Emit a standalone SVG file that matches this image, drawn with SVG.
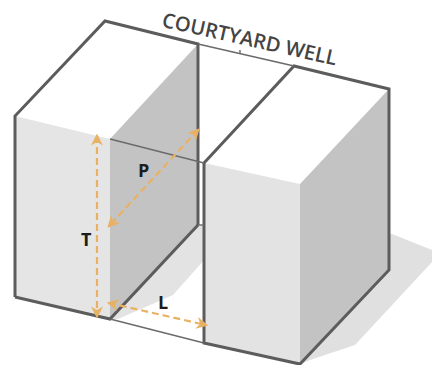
<svg xmlns="http://www.w3.org/2000/svg" width="432" height="365" viewBox="0 0 432 365">
<defs>
<marker id="ah" viewBox="0 0 10 10" refX="8" refY="5" markerWidth="12" markerHeight="12" markerUnits="userSpaceOnUse" orient="auto-start-reverse"><path d="M0 0L10 5L0 10L3 5Z" fill="#e9b164"/></marker>
<filter id="soft" x="-5%" y="-5%" width="110%" height="110%"><feGaussianBlur stdDeviation="0.7"/></filter>
<filter id="edge" x="-5%" y="-5%" width="110%" height="110%"><feGaussianBlur stdDeviation="0.4"/></filter>
</defs>
<style>
.thick{stroke:#5c5c5c;stroke-width:3;fill:none;stroke-linejoin:miter}
.thin{stroke:#6a6a6a;stroke-width:1.4;fill:none}
.dim{stroke:#e9b164;stroke-width:2.2;stroke-dasharray:7 4;fill:none;marker-start:url(#ah);marker-end:url(#ah)}
.lab{font-family:"Open Sans","Liberation Sans",sans-serif;font-weight:700;fill:#1c1c1c;font-size:18px}
</style>
<rect width="432" height="365" fill="#fff"/>
<g id="shadow"><path d="M389 234L392 234L432 250L432 262L355 345L310 360L300 364Z" fill="#e0e0e0" filter="url(#soft)"/></g>
<g id="left-block">
<path d="M15 116L110 139V319L15 297Z" fill="#e5e5e5"/>
<path d="M110 139L198 44V225L110 319Z" fill="#c3c3c3"/>
</g>
<g id="well-floor"><path d="M198 225H205V259L173 295L118 319L110 319Z" fill="#e3e3e3"/></g>
<g id="right-block">
<path d="M204 163L300 184V364L204 343Z" fill="#e3e3e3"/>
<path d="M300 184L389 89V270L300 364Z" fill="#c3c3c3"/>
</g>
<g id="connectors" filter="url(#edge)">
<path class="thick" d="M15 297V116L105 21L198 44V225"/>
<path class="thick" d="M15 297L110 319L198 225"/>
<path class="thick" d="M204 163V343L300 364L389 270V89L294 66L204 163"/>
<path class="thin" d="M198 44L294 66"/>
<path class="thin" d="M110 139L204 163"/>
<path class="thin" d="M110 319L204 343"/>
<path class="thin" d="M198 225H204"/>
<path class="thin" d="M240 50V53"/>
<path class="dim" d="M97 136V316"/>
<path class="dim" d="M198 130L109 226"/>
<path class="dim" d="M109 303L206 325"/>
</g>
<g id="title"><text transform="translate(161 26.5) rotate(12.6)" font-family="Open Sans, Liberation Sans, sans-serif" font-weight="600" font-size="20.2" fill="#444">COURTYARD WELL</text></g>
<g id="label-P"><text class="lab" x="138" y="177">P</text></g>
<g id="label-T"><text class="lab" x="81" y="246">T</text></g>
<g id="label-L"><text class="lab" x="158" y="309">L</text></g>
</svg>
